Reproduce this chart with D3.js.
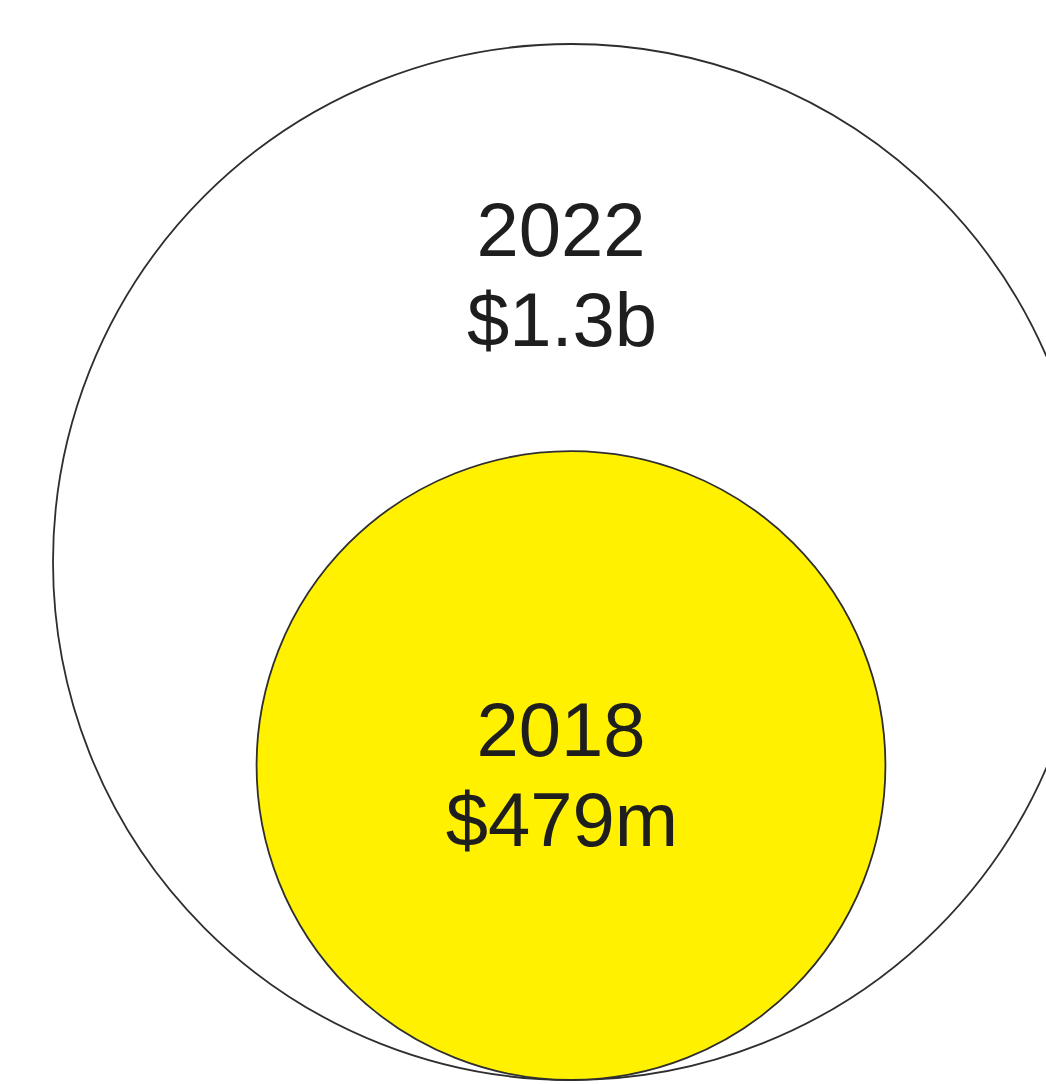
<!DOCTYPE html>
<html>
<head>
<meta charset="utf-8">
<script src="https://cdn.jsdelivr.net/npm/d3@7"></script>
<style>
  html, body { margin: 0; padding: 0; background: #ffffff; }
  svg { display: block; }
</style>
</head>
<body>
<svg id="chart" width="1046" height="1084"></svg>
<script>
// Spending by year, in millions of dollars
const years = ["2022", "2018"];
const values = [1300, 479];
const valueLabels = ["$1.3b", "$479m"];
const fills = ["#ffffff", "#fff100"];

const svg = d3.select("#chart");

// Circle area is proportional to value
const r = d3.scaleSqrt().domain([0, d3.max(values)]).range([0, 518]);

// Circles share a common bottom point
const cx = 571;
const baseY = 1080;

const data = years.map((y, i) => ({
  year: y,
  value: values[i],
  label: valueLabels[i],
  fill: fills[i],
  radius: r(values[i])
}));

svg.selectAll("circle.bubble")
  .data(data)
  .join("circle")
  .attr("class", "bubble")
  .attr("cx", cx)
  .attr("cy", d => baseY - d.radius)
  .attr("r", d => d.radius)
  .attr("fill", d => d.fill)
  .attr("stroke", "#2e2e2e")
  .attr("stroke-width", 1.8);

// Labels: year above value, measured down from the top of each circle
const labelOffsets = [212, 305];
const lineGap = 90;
const fontSize = 76;

const labels = svg.selectAll("g.label")
  .data(data)
  .join("g")
  .attr("class", "label")
  .attr("font-family", "'Liberation Sans', Arial, Helvetica, sans-serif")
  .attr("font-size", fontSize)
  .attr("fill", "#1e1e1e")
  .attr("text-anchor", "middle");

labels.append("text")
  .attr("x", cx - 10)
  .attr("y", (d, i) => baseY - 2 * d.radius + labelOffsets[i])
  .text(d => d.year);

labels.append("text")
  .attr("x", cx - 9)
  .attr("y", (d, i) => baseY - 2 * d.radius + labelOffsets[i] + lineGap)
  .text(d => d.label);
</script>
</body>
</html>
